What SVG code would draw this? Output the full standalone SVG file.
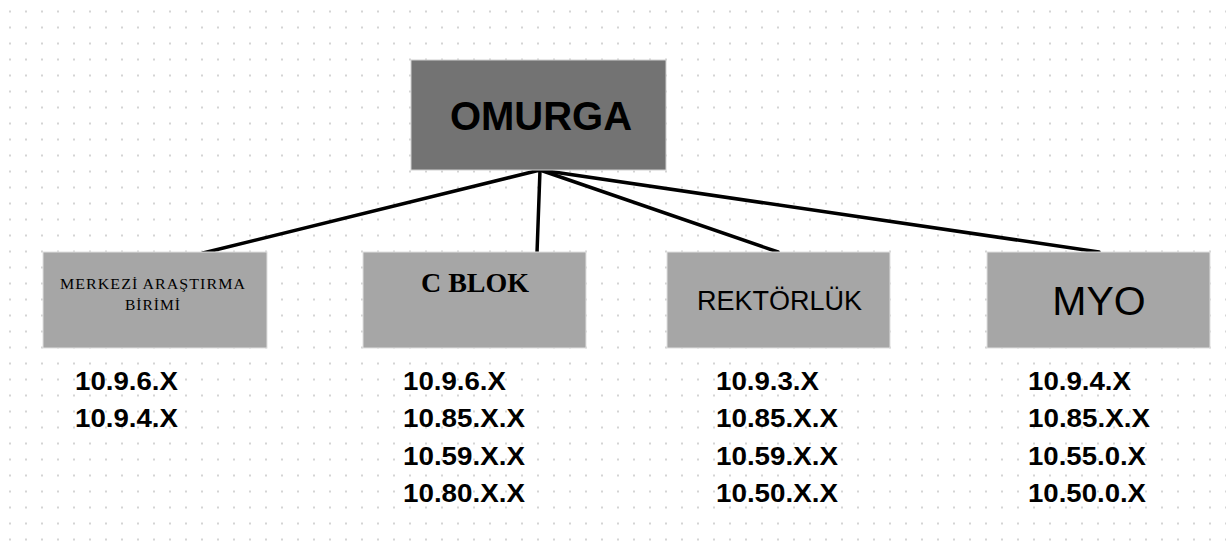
<svg xmlns="http://www.w3.org/2000/svg" width="1226" height="552" viewBox="0 0 1226 552">
<defs>
<pattern id="dots" x="9" y="10.5" width="16" height="16" patternUnits="userSpaceOnUse">
<rect x="0" y="0" width="2" height="2" fill="#d4d4d4"/>
</pattern>
<style>
.box{fill:#a6a6a6;stroke:#e0e0e0;stroke-width:1}
.root{fill:#737373;stroke:#d0d0d0;stroke-width:1}
.conn{stroke:#000;stroke-width:3.5;fill:none;stroke-linecap:round}
.lbl{font-family:"Liberation Sans",Arial,sans-serif;font-weight:bold;font-size:26.5px;fill:#000}
.serif{font-family:"Liberation Serif","Times New Roman",serif;fill:#000}
.sans{font-family:"Liberation Sans",Arial,sans-serif;fill:#000}
</style>
</defs>
<rect width="1226" height="552" fill="#fff"/>
<rect width="1226" height="552" fill="url(#dots)"/>
<g id="connectors">
<line class="conn" x1="540" y1="170" x2="203" y2="253"/>
<line class="conn" x1="540" y1="170" x2="537" y2="253"/>
<line class="conn" x1="540" y1="170" x2="778" y2="252"/>
<line class="conn" x1="540" y1="170" x2="1099" y2="252"/>
</g>
<g id="omurga">
<rect class="root" x="411" y="60" width="255" height="110"/>
<text class="sans" x="541" y="130" font-size="40" font-weight="bold" text-anchor="middle">OMURGA</text>
</g>
<g id="merkezi">
<rect class="box" x="43" y="252" width="224" height="96"/>
<text class="serif" x="153" y="289" font-size="15.5" letter-spacing="1" text-anchor="middle" textLength="186" lengthAdjust="spacingAndGlyphs">MERKEZİ ARAŞTIRMA</text>
<text class="serif" x="153" y="310" font-size="15.5" letter-spacing="1" text-anchor="middle">BİRİMİ</text>
</g>
<g id="cblok">
<rect class="box" x="363" y="252" width="223" height="96"/>
<text class="serif" x="475" y="292" font-size="28" font-weight="bold" text-anchor="middle">C BLOK</text>
</g>
<g id="rektorluk">
<rect class="box" x="667" y="252" width="223" height="96"/>
<text class="sans" x="779.5" y="310" font-size="27" text-anchor="middle">REKTÖRLÜK</text>
</g>
<g id="myo">
<rect class="box" x="987" y="252" width="223" height="96"/>
<text class="sans" x="1099" y="315" font-size="41" text-anchor="middle">MYO</text>
</g>
<g id="list-merkezi" class="lbl">
<text x="75" y="390" textLength="103" lengthAdjust="spacingAndGlyphs">10.9.6.X</text>
<text x="75" y="427" textLength="103" lengthAdjust="spacingAndGlyphs">10.9.4.X</text>
</g>
<g id="list-cblok" class="lbl">
<text x="403" y="390" textLength="103" lengthAdjust="spacingAndGlyphs">10.9.6.X</text>
<text x="403" y="427" textLength="122" lengthAdjust="spacingAndGlyphs">10.85.X.X</text>
<text x="403" y="465" textLength="122" lengthAdjust="spacingAndGlyphs">10.59.X.X</text>
<text x="403" y="502" textLength="122" lengthAdjust="spacingAndGlyphs">10.80.X.X</text>
</g>
<g id="list-rektorluk" class="lbl">
<text x="716" y="390" textLength="103" lengthAdjust="spacingAndGlyphs">10.9.3.X</text>
<text x="716" y="427" textLength="122" lengthAdjust="spacingAndGlyphs">10.85.X.X</text>
<text x="716" y="465" textLength="122" lengthAdjust="spacingAndGlyphs">10.59.X.X</text>
<text x="716" y="502" textLength="122" lengthAdjust="spacingAndGlyphs">10.50.X.X</text>
</g>
<g id="list-myo" class="lbl">
<text x="1028" y="390" textLength="103" lengthAdjust="spacingAndGlyphs">10.9.4.X</text>
<text x="1028" y="427" textLength="122" lengthAdjust="spacingAndGlyphs">10.85.X.X</text>
<text x="1028" y="465" textLength="118" lengthAdjust="spacingAndGlyphs">10.55.0.X</text>
<text x="1028" y="502" textLength="118" lengthAdjust="spacingAndGlyphs">10.50.0.X</text>
</g>
</svg>
